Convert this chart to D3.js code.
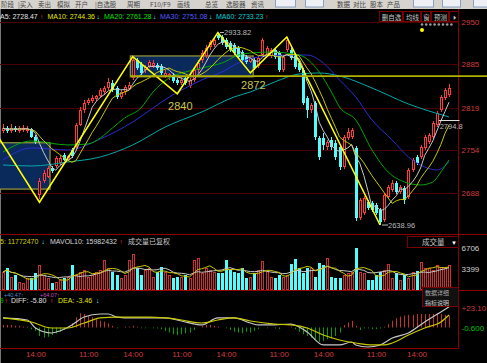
<!DOCTYPE html>
<html>
<head>
<meta charset="utf-8">
<script src="https://cdn.jsdelivr.net/npm/d3@7"></script>
<style>
  body { margin: 0; background: #000; overflow: hidden; }
  svg text { font-family: "Liberation Sans", Arial, sans-serif; }
  svg text.cn { font-family: "Noto Sans CJK SC", sans-serif; }
</style>
</head>
<body>
<svg id="chart" width="487" height="363"></svg>
<script>
// candles: [open, high, low, close]
const ohlc = [
  [2783.0,2793.7,2779.9,2787.6],[2787.6,2790.7,2779.9,2783.0],[2783.0,2793.7,2779.9,2787.6],[2787.6,2790.7,2781.5,2784.5],
  [2783.0,2790.7,2779.9,2787.6],[2784.5,2792.2,2781.5,2787.6],[2783.0,2790.7,2779.9,2786.1],[2786.1,2787.6,2772.3,2773.8],
  [2773.8,2776.9,2763.1,2766.2],[2685.0,2711.0,2678.8,2706.4],[2706.4,2723.3,2703.4,2718.7],[2712.5,2729.4,2711.0,2726.3],
  [2726.3,2729.4,2718.7,2721.7],[2729.4,2744.7,2726.3,2741.6],[2734.0,2746.2,2730.9,2741.6],[2746.2,2749.3,2737.0,2738.6],
  [2738.6,2746.2,2737.0,2744.7],[2753.9,2757.0,2741.6,2744.7],[2758.5,2795.3,2755.4,2792.2],[2792.2,2819.8,2790.7,2815.2],
  [2815.2,2830.5,2810.6,2825.9],[2825.9,2833.6,2822.8,2830.5],[2829.0,2838.2,2825.9,2833.6],[2832.0,2838.2,2829.0,2836.6],
  [2836.6,2848.9,2833.6,2845.8],[2842.8,2851.9,2838.2,2848.9],[2848.9,2864.2,2845.8,2858.1],[2856.5,2861.1,2842.8,2845.8],
  [2848.9,2851.9,2832.0,2835.1],[2835.1,2845.8,2832.0,2842.8],[2842.8,2853.5,2838.2,2850.4],[2847.3,2858.1,2845.8,2853.5],
  [2864.2,2896.4,2861.1,2891.8],[2891.8,2894.8,2876.5,2879.5],[2885.6,2888.7,2868.8,2871.9],[2876.5,2884.1,2871.9,2881.1],
  [2881.1,2891.8,2879.5,2888.7],[2882.6,2891.8,2879.5,2887.2],[2884.1,2887.2,2876.5,2879.5],[2882.6,2885.6,2868.8,2871.9],
  [2867.3,2876.5,2864.2,2871.9],[2865.7,2871.9,2861.1,2870.3],[2868.8,2871.9,2856.5,2859.6],[2861.1,2864.2,2853.5,2856.5],
  [2856.5,2865.7,2853.5,2861.1],[2864.2,2867.3,2853.5,2856.5],[2851.9,2864.2,2848.9,2861.1],[2861.1,2879.5,2858.1,2876.5],
  [2876.5,2891.8,2871.9,2887.2],[2891.8,2907.1,2887.2,2902.5],[2897.9,2914.8,2894.8,2910.2],[2911.7,2922.4,2907.1,2919.4],
  [2914.8,2927.0,2911.7,2922.4],[2930.0,2933.82,2922.4,2925.5],[2927.0,2930.0,2914.8,2917.8],[2922.4,2925.5,2908.6,2911.7],
  [2917.8,2920.9,2904.0,2907.1],[2914.8,2917.8,2899.4,2902.5],[2910.2,2913.2,2893.3,2896.4],[2904.0,2907.1,2888.7,2891.8],
  [2896.4,2899.4,2885.6,2888.7],[2888.7,2897.9,2887.2,2894.8],[2891.8,2894.8,2876.5,2879.5],[2882.6,2897.9,2879.5,2894.8],
  [2899.4,2925.5,2896.4,2922.4],[2899.4,2913.2,2896.4,2910.2],[2897.9,2910.2,2894.8,2907.1],[2907.1,2910.2,2893.3,2896.4],
  [2902.5,2905.6,2873.4,2876.5],[2876.5,2899.4,2873.4,2896.4],[2907.1,2927.0,2904.0,2922.4],[2907.1,2910.2,2891.8,2894.8],
  [2899.4,2902.5,2878.0,2881.1],[2887.2,2890.2,2873.4,2876.5],[2876.5,2879.5,2822.8,2825.9],[2833.6,2836.6,2803.0,2815.2],
  [2815.2,2825.9,2810.6,2822.8],[2825.9,2829.0,2769.2,2773.8],[2772.3,2775.4,2738.6,2743.2],[2772.3,2779.9,2753.9,2761.6],
  [2758.5,2769.2,2753.9,2766.2],[2769.2,2773.8,2753.9,2758.5],[2764.6,2769.2,2738.6,2743.2],[2758.5,2761.6,2723.3,2727.9],
  [2727.9,2776.9,2724.8,2773.8],[2772.3,2787.6,2769.2,2781.5],[2773.8,2787.6,2770.8,2784.5],[2757.0,2760.0,2645.1,2649.7],
  [2649.7,2680.4,2646.7,2677.3],[2657.4,2683.4,2654.3,2680.4],[2674.2,2677.3,2662.0,2665.0],[2672.7,2675.8,2658.9,2662.0],
  [2669.6,2672.7,2654.3,2657.4],[2662.0,2665.0,2638.96,2643.6],[2646.7,2688.0,2643.6,2685.0],[2681.9,2700.3,2678.8,2697.2],
  [2692.6,2707.9,2689.6,2703.4],[2703.4,2706.4,2686.5,2689.6],[2689.6,2700.3,2686.5,2697.2],[2695.7,2698.8,2671.2,2677.3],
  [2681.9,2726.3,2678.8,2723.3],[2723.3,2741.6,2720.2,2738.6],[2743.2,2746.2,2730.9,2734.0],[2743.2,2761.6,2740.1,2758.5],
  [2757.0,2776.9,2753.9,2773.8],[2766.2,2779.9,2763.1,2776.9],[2773.8,2798.3,2770.8,2795.3],[2792.2,2813.7,2789.1,2810.6],
  [2815.2,2838.2,2812.1,2835.1],[2833.6,2848.9,2830.5,2845.8],[2838.2,2855.0,2835.1,2848.9]
];

// volume per candle (axis units)
const volume = [
  2880,3510,2080,2400,1280,1120,1920,1920,2720,3990, 2400,1920,1120,1280,1600,1920,2080,3990,2400,2880,
  3190,2080,2400,2880,3190,4790,3510,2880,2400,1920, 2400,4790,5750,3510,2400,3190,3510,2080,2880,3670,
  2880,2400,1920,2080,2080,2400,1920,4790,5110,2720, 3510,3190,2880,2720,2720,4790,3190,2880,2720,3510,
  1920,2080,2720,3190,4630,3030,2080,1920,2400,2080, 2400,4150,4950,3510,2720,3510,3510,2080,4310,3990,
  5110,2080,1920,1920,2400,2720,2880,6700,2880,2720, 1600,1600,2400,2880,3190,4150,1920,2720,1600,2400,
  1920,2880,3030,4470,3510,3510,3190,3990,3670,3510, 3990
];

// MACD histogram per candle
const macdHist = [
  3,3,3,2,2,1,1,-2,-4,-10, -12,-11,-9,-7,-5,-3,1,5,12,17, 16,14,12,10,8,7,5,2,-1,0,
  1,1,2,1,-1,-1,0,-1,-1,-2, -4,-6,-8,-9,-8,-7,-6,-3,0,2, 3,3,2,1,0,-1,-3,-5,-6,-7,
  -5,-6,-4,-2,0,-1,0,-1,-2,0, 0,1,-2,-5,-8,-10,-12,-14,-17,-16, -14,-13,-10,-6,3,6,8,2,-3,-1,
  -1,-2,-2,-1,1,4,8,11,13,14, 15,15,16,16,16,16,16,17,16,15, 14
];

// DIFF / DEA read at sample candles: [candle, value]
const diffPts = [[0,11.3],[6,8.9],[8,-0.6],[12,-6.5],[14,-4.1],[17,3.0],[20,12.4],[24,16.0],[26,16.0],[28,12.4],
  [32,11.3],[40,11.3],[44,7.7],[49,3.0],[53,11.3],[57,11.3],[61,5.3],[63,3.0],[67,3.0],[71,4.1],[75,-5.3],
  [79,-20.7],[83,-20.7],[86,-17.2],[87,-20.7],[90,-23.1],[93,-20.7],[96,-12.4],[100,-6.5],[104,6.5],[108,18.4],[110,24.3]];
const deaPts = [[0,11.3],[7,6.5],[12,-0.6],[16,-0.6],[20,5.3],[24,11.3],[28,12.4],[36,12.4],[40,11.3],[44,8.9],
  [49,5.3],[53,8.9],[57,11.3],[61,7.7],[67,4.1],[71,3.0],[75,-0.6],[79,-8.9],[83,-14.8],[87,-18.4],[91,-20.7],
  [94,-20.7],[96,-18.4],[100,-8.9],[104,-0.6],[108,6.5],[110,14.8]];

// slow moving averages read at sample candles: [candle, price]
const ma20Pts = [[0,2750.8],[7,2767.7],[16,2761.6],[21,2763.1],[24,2772.3],[27,2787.6],[30,2802.9],[34,2818.2],
  [37,2842.8],[41,2864.2],[45,2873.4],[49,2879.5],[54,2887.2],[59,2901.0],[66,2904.0],[73,2899.4],[78,2873.4],
  [81,2842.8],[83,2819.8],[87,2799.9],[91,2753.9],[95,2720.2],[99,2704.9],[103,2700.3],[106,2704.9],[108,2720.2],[110,2738.6]];
const ma30Pts = [[0,2738.6],[7,2757.0],[16,2753.9],[24,2770.8],[32,2796.8],[37,2818.2],[41,2835.1],[45,2848.9],
  [49,2861.1],[54,2873.4],[58,2887.2],[63,2896.4],[71,2899.4],[75,2899.4],[79,2887.2],[83,2861.1],[87,2835.1],
  [91,2799.9],[96,2769.2],[100,2743.2],[104,2727.9],[107,2723.3],[110,2735.5]];
const ma60Pts = [[0,2730.9],[7,2729.4],[16,2735.5],[24,2743.2],[32,2761.6],[40,2789.1],[49,2812.1],[57,2835.1],
  [61,2842.8],[67,2858.1],[73,2870.3],[78,2871.9],[83,2867.3],[91,2848.9],[100,2824.4],[105,2813.7],[110,2804.5]];

const priceTicks = [2688, 2754, 2819, 2885, 2950];
const volTicks = [3399, 6706];
const macdTicks = [-0.6, 23.1];
const timeIdx = [8, 21, 32, 44, 55, 68, 79, 92, 102];
const timeLabels = ["14:00","11:00","14:00","11:00","14:00","11:00","14:00","11:00","14:00"];

// wave line turning points [candle, price] and marked waves
const zigzag = [[-1,2772],[9,2674],[32,2897],[43,2840],[53,2933.82],[61,2872],[70,2927],[93,2638.96]];
const zigLabels = [[43,2840],[61,2872]];
const boxes = [{from:-2, to:11.6, lo:2694, hi:2765}, {from:31.4, to:61.7, lo:2866, hi:2898}];
const levelLine = [31.4, 2867];

const W = 487, H = 363, right = 458.5;
const RED = "#ff3c3c", CYAN = "#54fcfc", DARKRED = "#8c0000", GRID = "#4a0000";

const svg = d3.select("#chart");
svg.append("rect").attr("width", W).attr("height", H).attr("fill", "#000");

const n = ohlc.length;
const x = d3.scaleLinear().domain([0, n - 1]).range([3, 449]);
const y = d3.scaleLinear().domain([2688, 2950]).range([193, 22]);
const yv = d3.scaleLinear().domain([0, 6706]).range([290, 248]);
const ym = d3.scaleLinear().domain([-0.6, 23.1]).range([328, 308]);
const px = i => Math.round(x(i));
const isUp = d => d[3] >= d[0];

svg.append("defs").append("clipPath").attr("id", "clipMain")
  .append("rect").attr("x", 0).attr("y", 9).attr("width", right).attr("height", 225);

// toolbar strip
const toolbar = [[1,"阶段"],[18,"|买入"],[38,"卖出"],[57,"模拟"],[75,"开户"],[95,"|自选股"],[127,"周期"],
  [150,"F10/F9"],[177,"画线"],[205,"总览"],[226,"选股器"],[251,"资讯"],[337,"数据"],[353,"对比"],[370,"股本"],[387,"产品"]];
const tbButtons = [[275,20],[305,18],[413,20],[442,18],[473,14]];
svg.append("rect").attr("width", W).attr("height", 9).attr("fill", "#d6d3ce");
svg.selectAll("rect.tbb").data(tbButtons).join("rect").attr("class","tbb")
  .attr("x", d => d[0] + 0.5).attr("y", -2).attr("width", d => d[1]).attr("height", 9)
  .attr("fill", "#eef0f6").attr("stroke", "#8aa0c0");
svg.selectAll("text.tb").data(toolbar).join("text").attr("class","tb cn")
  .attr("x", d => d[0]).attr("y", 7).attr("fill", "#444").style("font-size","6.5px").text(d => d[1]);

// frame lines
svg.append("line").attr("x1",0.5).attr("x2",0.5).attr("y1",9).attr("y2",H).attr("stroke","#777");
svg.append("line").attr("x1",right).attr("x2",right).attr("y1",9).attr("y2",348.5).attr("stroke",DARKRED);
[234.5, 290.5].forEach(v => svg.append("line").attr("x1",0).attr("x2",W).attr("y1",v).attr("y2",v).attr("stroke",DARKRED));
svg.append("line").attr("x1",0).attr("x2",right).attr("y1",348.5).attr("y2",348.5).attr("stroke",DARKRED);

// ---------- main panel ----------
const main = svg.append("g").attr("clip-path", "url(#clipMain)");
main.selectAll("line.grid").data(priceTicks).join("line").attr("class","grid")
  .attr("x1", 0).attr("x2", right)
  .attr("y1", d => Math.round(y(d)) + 0.5).attr("y2", d => Math.round(y(d)) + 0.5)
  .attr("stroke", GRID);

main.selectAll("rect.box").data(boxes).join("rect").attr("class","box")
  .attr("x", d => x(d.from)).attr("width", d => x(d.to) - x(d.from))
  .attr("y", d => y(d.hi)).attr("height", d => y(d.lo) - y(d.hi))
  .attr("fill", "#0b2a5c").attr("stroke", "#9a9a3a").attr("stroke-width", 1.2);

svg.append("line").attr("x1", x(levelLine[0])).attr("x2", W)
  .attr("y1", y(levelLine[1])).attr("y2", y(levelLine[1]))
  .attr("stroke", "#b0b000").attr("stroke-width", 1.6);

// candles
const cg = main.append("g");
cg.selectAll("line").data(ohlc).join("line")
  .attr("x1", (d,i) => px(i) + 0.5).attr("x2", (d,i) => px(i) + 0.5)
  .attr("y1", d => Math.round(y(d[1]))).attr("y2", d => Math.round(y(d[2])))
  .attr("stroke", d => isUp(d) ? RED : CYAN);
cg.selectAll("rect").data(ohlc).join("rect")
  .each(function(d, i) {
    const top = Math.round(y(Math.max(d[0], d[3]))), bot = Math.round(y(Math.min(d[0], d[3])));
    const h = Math.max(1, bot - top), s = d3.select(this);
    if (isUp(d)) s.attr("x", px(i) - 0.5).attr("y", top + 0.5).attr("width", 2).attr("height", Math.max(h - 1, 0.5))
      .attr("fill", "#000").attr("stroke", RED);
    else s.attr("x", px(i) - 1).attr("y", top).attr("width", 3).attr("height", h).attr("fill", CYAN);
  });

// moving averages
const closes = ohlc.map(d => d[3]);
const sma = (arr, k) => arr.map((_, i) => d3.mean(arr.slice(Math.max(0, i - k + 1), i + 1)));
const lineIdx = sc => d3.line().x((d, i) => x(i)).y(d => sc(d));
const linePts = sc => d3.line().x(d => x(d[0])).y(d => sc(d[1])).curve(d3.curveMonotoneX);
const maLayer = main.append("g").attr("fill", "none");
maLayer.append("path").attr("d", linePts(y)(ma60Pts)).attr("stroke", "#00a8a8");
maLayer.append("path").attr("d", linePts(y)(ma30Pts)).attr("stroke", "#2c2cd0");
maLayer.append("path").attr("d", linePts(y)(ma20Pts)).attr("stroke", "#00a800");
maLayer.append("path").attr("d", lineIdx(y)(sma(closes, 10))).attr("stroke", "#c8c800");
maLayer.append("path").attr("d", lineIdx(y)(sma(closes, 5))).attr("stroke", "#c8c8c8");

// wave line
main.append("path").attr("d", d3.line().x(d => x(d[0])).y(d => y(d[1]))(zigzag))
  .attr("fill", "none").attr("stroke", "#ffff00").attr("stroke-width", 1.6);
main.selectAll("text.zl").data(zigLabels).join("text").attr("class","zl")
  .attr("x", d => x(d[0]) + 3).attr("y", d => y(d[1]) + 16).attr("text-anchor", "middle")
  .attr("fill", "#c8c850").style("font-size", "11px").text(d => d[1]);

// extreme marks
const hiI = 53, loI = 93;
svg.append("line").attr("x1", px(hiI) + 2).attr("x2", px(hiI) + 6).attr("y1", y(ohlc[hiI][1])).attr("y2", y(ohlc[hiI][1])).attr("stroke", "#bbb");
svg.append("text").attr("x", px(hiI) + 6).attr("y", y(ohlc[hiI][1]) + 2.5).attr("fill", "#bbb").style("font-size", "7.5px").text(ohlc[hiI][1].toFixed(2));
svg.append("line").attr("x1", px(loI) + 2).attr("x2", px(loI) + 8).attr("y1", y(ohlc[loI][2])).attr("y2", y(ohlc[loI][2])).attr("stroke", "#bbb");
svg.append("text").attr("x", px(loI) + 8).attr("y", y(ohlc[loI][2]) + 3).attr("fill", "#bbb").style("font-size", "7.5px").text(ohlc[loI][2].toFixed(2));
svg.append("line").attr("x1", x(107.5)).attr("x2", right + 1).attr("y1", Math.round(y(2800)) + 0.5).attr("y2", Math.round(y(2800)) + 0.5).attr("stroke", "#ddd");
svg.append("text").attr("x", x(107.7)).attr("y", y(2800) + 9).attr("fill", "#bbb").style("font-size", "7.5px").text("2794.8");

// top right buttons and marks
const btns = [[379,"删自选"],[403,"均线"],[421,"窗"],[431,"预测"],[449,"⏵"]];
const btnW = [23, 17, 9, 17, 9];
svg.selectAll("rect.btn").data(btns).join("rect").attr("class","btn")
  .attr("x", d => d[0] + 0.5).attr("y", 11.5).attr("width", (d,i) => btnW[i]).attr("height", 10)
  .attr("fill", "#000").attr("stroke", "#7a0000");
svg.selectAll("text.btn").data(btns).join("text").attr("class","btn cn")
  .attr("x", (d,i) => d[0] + 1 + btnW[i] / 2).attr("y", 19.5).attr("text-anchor","middle")
  .attr("fill", "#c8c8c8").style("font-size", "6.5px").text(d => d[1]);
svg.selectAll("circle.dot").data(d3.range(8)).join("circle").attr("class","dot")
  .attr("cx", d => 422 + d * 4.2).attr("cy", 24.5).attr("r", 1.3).attr("fill", "#9a9a9a");
svg.append("circle").attr("cx", 422).attr("cy", 30).attr("r", 2).attr("fill", "#ffff00");

// legend rows: [x, text, colour, cjk]
const legend = (items, yy) => items.forEach(t =>
  svg.append("text").attr("class", t[3] ? "cn" : null).attr("x", t[0]).attr("y", yy).attr("fill", t[2])
    .style("font-size", t[1].length === 1 ? "6.5px" : "7px").text(t[1]));
legend([[0,"A5: 2728.47","#e6e6e6"],[40,"↑",RED],[47.5,"MA10: 2744.36","#e6e600"],[96.5,"↓",CYAN],
  [104,"MA20: 2761.28","#00e000"],[153,"↓",CYAN],[160,"MA30: 2751.08","#5a5aff"],[209,"↓",CYAN],
  [216,"MA60: 2733.23","#00d0d0"],[265,"↑",RED]], 19);

// ---------- volume panel ----------
const vg = svg.append("g");
vg.selectAll("rect").data(volume).join("rect")
  .each(function(v, i) {
    const top = Math.round(yv(v)), s = d3.select(this);
    if (isUp(ohlc[i])) s.attr("x", px(i) - 0.5).attr("y", top + 0.5).attr("width", 2).attr("height", 289 - top)
      .attr("fill", "#000").attr("stroke", "#d03030");
    else s.attr("x", px(i) - 1).attr("y", top).attr("width", 3).attr("height", 290 - top).attr("fill", CYAN);
  });
vg.append("path").attr("d", lineIdx(yv)(sma(volume, 10))).attr("fill", "none").attr("stroke", "#c8c8c8");
vg.append("path").attr("d", lineIdx(yv)(sma(volume, 5))).attr("fill", "none").attr("stroke", "#c8c800");
legend([[0,"5: 11772470","#d0d000"],[41.5,"↓",CYAN],[50,"MAVOL10: 15982432","#d8d8d8"],[119.5,"↑",RED],
  [128,"成交量已复权","#c8c8c8",1]], 244);
svg.append("rect").attr("x", 407.5).attr("y", 236.5).attr("width", 51).attr("height", 11)
  .attr("fill", "#000").attr("stroke", "#7a0000");
svg.append("text").attr("class","cn").attr("x", 422).attr("y", 245).attr("fill", "#c8c8c8").style("font-size","7.5px").text("成交量");
svg.append("text").attr("x", 451).attr("y", 244.5).attr("fill", "#fff").style("font-size","6px").text("▼");

// ---------- MACD panel ----------
const mg = svg.append("g");
mg.selectAll("line").data(macdHist).join("line")
  .attr("x1", (d,i) => px(i) + 0.5).attr("x2", (d,i) => px(i) + 0.5)
  .attr("y1", ym(0)).attr("y2", d => ym(d))
  .attr("stroke", d => d >= 0 ? "#c83030" : "#00a000");
mg.append("path").attr("d", linePts(ym)(diffPts)).attr("fill", "none").attr("stroke", "#c8c8c8").attr("stroke-width", 1.2);
mg.append("path").attr("d", linePts(ym)(deaPts)).attr("fill", "none").attr("stroke", "#c8c800").attr("stroke-width", 1.2);
svg.append("text").attr("x", 4).attr("y", 296.5).attr("fill", "#5a8ad0").style("font-size","5.5px").text("+40.47↑");
svg.append("text").attr("x", 40).attr("y", 296.5).attr("fill", "#c050c0").style("font-size","5.5px").text("+64.07↑");
legend([[0,"9","#00c000"],[4.5,"↑",RED],[11,"DIFF: -5.80","#e0e0e0"],[50,"↑",RED],
  [58,"DEA: -3.46","#e0e000"],[96,"↓",CYAN]], 303);
svg.append("rect").attr("x", 422.5).attr("y", 287.5).attr("width", 36).attr("height", 19)
  .attr("fill", "#111").attr("stroke", "#7a0000");
svg.append("text").attr("class","cn").attr("x", 425).attr("y", 295).attr("fill", "#aaa").style("font-size","6px").text("数据详细");
svg.append("text").attr("class","cn").attr("x", 425).attr("y", 304.5).attr("fill", "#ccc").style("font-size","6px").text("指标说明");

// ---------- axes ----------
const styleAxis = (g, col) => {
  g.select(".domain").remove();
  g.selectAll("text").attr("fill", col).style("font-size", "8px");
};
svg.append("g").attr("transform", `translate(${right},0)`)
  .call(d3.axisRight(y).tickValues(priceTicks).tickSize(0).tickPadding(3).tickFormat(d3.format("d")))
  .call(g => styleAxis(g, "#d03c3c"));
svg.append("g").attr("transform", `translate(${right},0)`)
  .call(d3.axisRight(yv).tickValues(volTicks).tickSize(0).tickPadding(3).tickFormat(d3.format("d")))
  .call(g => styleAxis(g, "#d0d0d0"));
svg.append("g").attr("transform", `translate(${right},0)`)
  .call(d3.axisRight(ym).tickValues(macdTicks).tickSize(0).tickPadding(3)
    .tickFormat(d => d > 0 ? "+" + d.toFixed(2) : d.toFixed(3)))
  .call(g => { styleAxis(g, "#d03c3c"); g.selectAll("text").attr("fill", d => d > 0 ? "#d03c3c" : "#00c000"); });
svg.append("g").attr("transform", "translate(0,348)")
  .call(d3.axisBottom(x).tickValues(timeIdx).tickSize(0).tickPadding(3).tickFormat((d, i) => timeLabels[i]))
  .call(g => styleAxis(g, "#d03c3c"));
</script>
</body>
</html>
